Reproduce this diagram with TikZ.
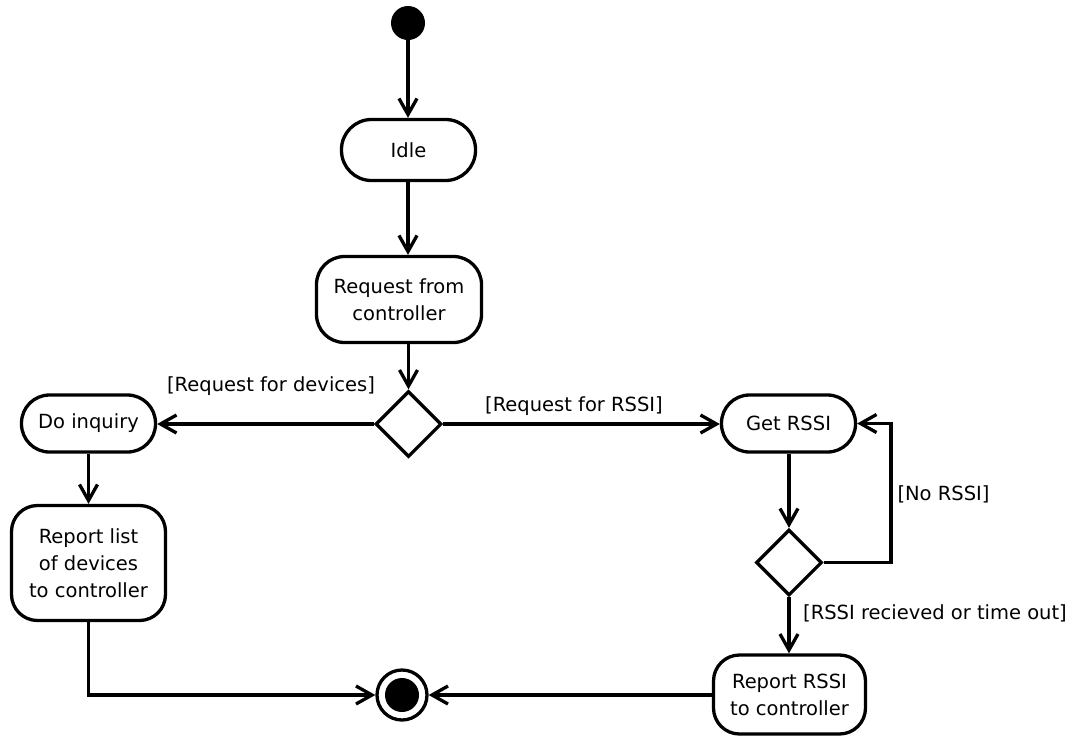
\documentclass[tikz,border=0pt]{standalone}
\usepackage{fontspec}
\setmainfont{DejaVu Sans}
\usetikzlibrary{arrows.meta,shapes.geometric}
\begin{document}
\begin{tikzpicture}[x=1pt,y=-1pt,
  every node/.style={font=\fontsize{19.5}{27}\selectfont},
  action/.style={draw,line width=3.3pt,rectangle,align=center,inner sep=0pt},
  decision/.style={draw,line width=3.3pt,diamond,minimum width=66pt,minimum height=66pt,inner sep=0pt},
  flow/.style={line width=3.3pt,-{Straight Barb[length=16pt,width=18pt]}},
  guard/.style={inner sep=0pt}]
  \useasboundingbox (0,0) rectangle (1073,740);

  % initial and final states
  \node[circle,fill=black,minimum size=34pt,inner sep=0pt] (start) at (408,23) {};
  \node[circle,draw,line width=3.3pt,minimum size=50pt,inner sep=0pt] (finish) at (402,695) {};
  \fill (finish.center) circle (17);

  % actions
  \node[action,rounded corners=30pt,minimum width=134pt,minimum height=61pt] (idle) at (408.5,150) {Idle};
  \node[action,rounded corners=28pt,minimum width=165pt,minimum height=86pt] (req) at (399,299.5) {Request from\\controller};
  \node[action,rounded corners=28pt,minimum width=134pt,minimum height=57pt] (inq) at (88.5,423.5) {Do inquiry};
  \node[action,rounded corners=28pt,minimum width=134pt,minimum height=57pt] (get) at (788.5,423.5) {Get RSSI};
  \node[action,rounded corners=26pt,minimum width=154pt,minimum height=115pt] (list) at (88.5,563) {Report list\\of devices\\to controller};
  \node[action,rounded corners=26pt,minimum width=152pt,minimum height=79pt] (rep) at (789.5,694.5) {Report RSSI\\to controller};

  % decisions
  \node[decision] (d1) at (408.5,424) {};
  \node[decision] (d2) at (789,562.5) {};

  % loop corner
  \coordinate (loop) at (891,562.5);

  % flows
  \draw[flow] (start) -- (idle.north -| start);
  \draw[flow] (idle.south -| start) -- (req.north -| start);
  \draw[flow] (req.south -| d1) -- (d1.north);
  \draw[flow] (d1.west) -- (d1.west -| inq.east);
  \draw[flow] (d1.east) -- (d1.east -| get.west);
  \draw[flow] (get.south -| d2) -- (d2.north);
  \draw[flow] (d2.east) -- (loop) |- (get.east);
  \draw[flow] (d2.south) -- (d2.south |- rep.north);
  \draw[flow] (inq.south) -- (list.north);
  \draw[flow] (list.south) |- (finish.west);
  \draw[flow] (rep.west |- finish) -- (finish.east);

  % guards
  \node[guard] (g1) at (271,386) {[Request for devices]};
  \node[guard] (g2) at (574,406) {[Request for RSSI]};
  \node[guard] (g3) at (943.5,494) {[No RSSI]};
  \node[guard] (g4) at (935,613) {[RSSI recieved or time out]};
\end{tikzpicture}
\end{document}
